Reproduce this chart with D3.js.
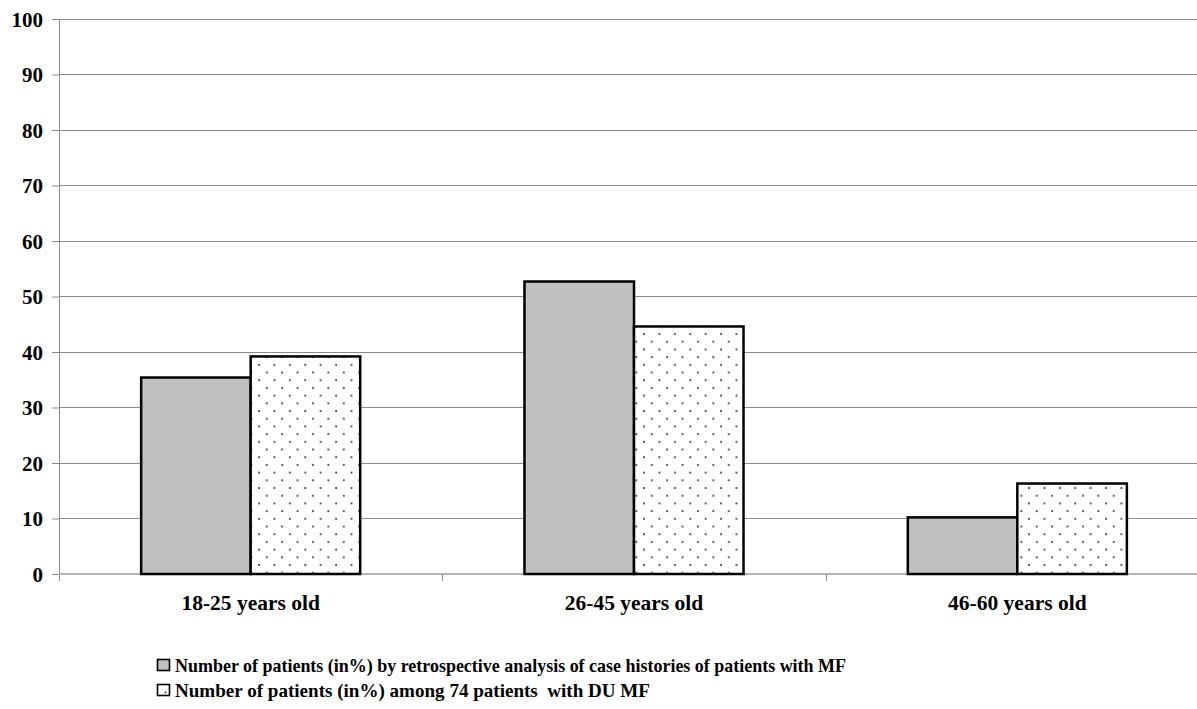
<!DOCTYPE html>
<html><head><meta charset="utf-8">
<script src="https://cdn.jsdelivr.net/npm/d3@7"></script>
<style>body{margin:0;background:#fff}svg{display:block}</style>
</head><body>
<svg id="c" width="1197" height="709"></svg>
<script>
const categories = ["18-25 years old", "26-45 years old", "46-60 years old"];
const seriesNames = [
  "Number of patients (in%) by retrospective analysis of case histories of patients with MF",
  "Number of patients (in%) among 74 patients  with DU MF"
];
const retrospective = [35.4, 52.7, 10.2];
const du = [39.2, 44.6, 16.3];
const yTicks = [0,10,20,30,40,50,60,70,80,90,100];

(function(){
const FONT = "'Liberation Serif', 'Times New Roman', Times, 'DejaVu Serif', serif";
const svg = d3.select("#c");
const mLeft = 59, mRight = 1209, mTop = 19, mBottom = 574;
const defs = svg.append("defs");
const pat = defs.append("pattern").attr("id","dots").attr("patternUnits","userSpaceOnUse")
  .attr("width",15.4).attr("height",15.4).attr("x",2).attr("y",0);
pat.append("rect").attr("width",15.4).attr("height",15.4).attr("fill","#fff");
pat.append("circle").attr("cx",3).attr("cy",3).attr("r",1).attr("fill","#333");
pat.append("circle").attr("cx",10.7).attr("cy",10.7).attr("r",1).attr("fill","#333");

const x = d3.scaleBand().domain(categories).range([mLeft,mRight]).paddingInner(0).paddingOuter(0);
const y = d3.scaleLinear().domain([0,100]).range([mBottom,mTop]);
const xs = d3.scaleBand().domain([0,1]).range([0, x.bandwidth()]).paddingInner(0).paddingOuter(0.75);

svg.append("g").selectAll("line").data(yTicks.filter(d=>d>0)).join("line")
  .attr("x1",mLeft).attr("x2",1197).attr("y1",d=>y(d)).attr("y2",d=>y(d))
  .attr("stroke","#8c8c8c").attr("stroke-width",1).attr("shape-rendering","crispEdges");

const ya = svg.append("g").attr("transform",`translate(${mLeft},0)`)
  .call(d3.axisLeft(y).tickValues(yTicks).tickSize(7).tickPadding(9).tickSizeOuter(0));
ya.select(".domain").attr("stroke","#8c8c8c").attr("d",`M0.5,${mTop}V${mBottom+7}`);
ya.selectAll(".tick line").attr("stroke","#8c8c8c");
ya.selectAll("text").style("font-family",FONT).style("font-weight","bold")
  .style("font-size","21px").attr("fill","#000").attr("dy","0.34em");

const xa = svg.append("g").attr("transform",`translate(0,${mBottom})`)
  .call(d3.axisBottom(x).tickSize(0).tickPadding(23).tickSizeOuter(0));
xa.select(".domain").attr("stroke","#b4b4b4").attr("stroke-width",2).attr("d",`M${mLeft},0H1197`);
xa.selectAll("text").style("font-family",FONT).style("font-weight","bold")
  .style("font-size","21.5px").attr("fill","#000").attr("dy","0.6em");
svg.append("g").selectAll("line").data(categories.slice(1)).join("line")
  .attr("x1",d=>Math.round(x(d))+0.5).attr("x2",d=>Math.round(x(d))+0.5).attr("y1",mBottom).attr("y2",mBottom+7)
  .attr("stroke","#8c8c8c");

const data = categories.map((c,i)=>[{c,s:0,v:retrospective[i]},{c,s:1,v:du[i]}]).flat();
svg.append("g").selectAll("rect").data(data).join("rect")
  .attr("x",d=>x(d.c)+xs(d.s)).attr("width",xs.bandwidth())
  .attr("y",d=>y(d.v)).attr("height",d=>y(0)-y(d.v))
  .attr("fill",d=>d.s===0?"#c0c0c0":"url(#dots)")
  .attr("stroke","#000").attr("stroke-width",2.5);

const lg = svg.append("g");
const legendWidths = [671, 475];
seriesNames.forEach((n,i)=>{
  const yy = 672 + i*25;
  lg.append("rect").attr("x",157.5).attr("y",yy-12.5).attr("width",12).attr("height",11)
    .attr("fill",i===0?"#c0c0c0":"#fff").attr("stroke","#000").attr("stroke-width",1.6);
  if(i===1) lg.append("circle").attr("cx",165.5).attr("cy",yy-4.5).attr("r",0.9).attr("fill","#333");
  lg.append("text").attr("x",175).attr("y",yy)
    .style("font-family",FONT).style("font-weight","bold").style("font-size","19px")
    .style("white-space","pre").attr("fill","#000")
    .attr("textLength",legendWidths[i]).attr("lengthAdjust","spacingAndGlyphs")
    .text(n);
});
})();
</script>
</body></html>
